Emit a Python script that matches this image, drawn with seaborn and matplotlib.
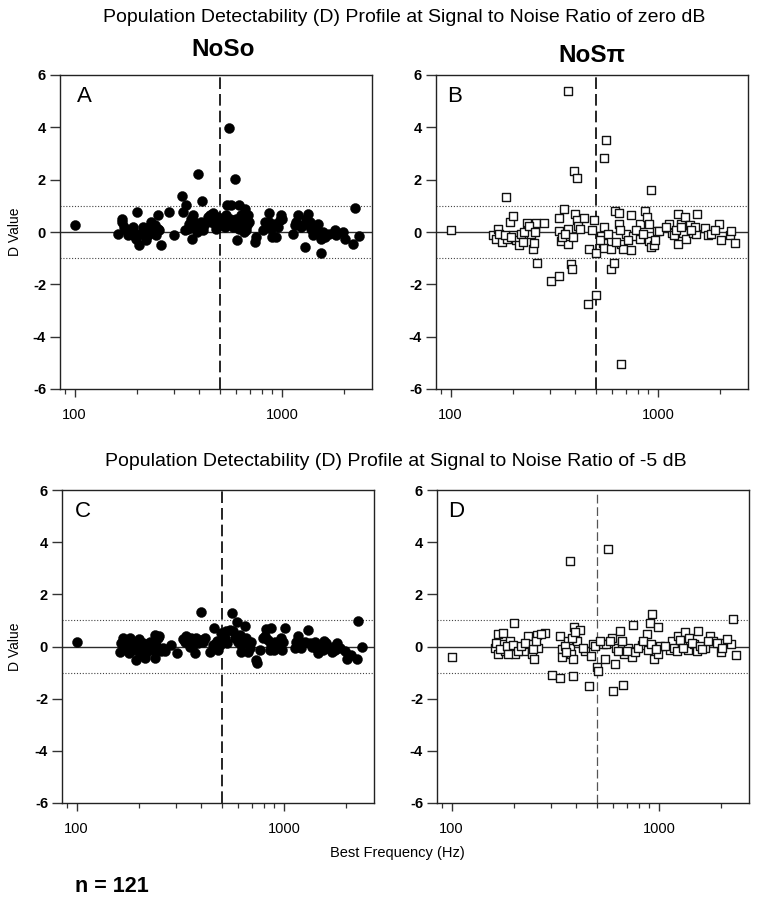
import numpy as np
import pandas as pd
import matplotlib
matplotlib.use("Agg")
import matplotlib.pyplot as plt
import seaborn as sns
from matplotlib.ticker import LogLocator, NullFormatter, FixedLocator, FixedFormatter

# ---------------- data (Best Frequency in Hz, D value) ----------------
freq_A = [100, 161, 169, 169, 177, 184, 191, 191, 199, 205, 213, 221, 234, 238, 252, 252, 261, 284, 303,
          330, 345, 332, 339, 369, 372, 378, 394, 400, 412, 415, 439, 464, 482, 491, 528, 538, 554, 569,
          593, 601, 608, 620, 636, 648, 660, 673, 693, 738, 752, 810, 862, 871, 898, 940, 957, 1004, 1130,
          1173, 1231, 1297, 1312, 1336, 1387, 1438, 1499, 1538, 1549, 1687, 1796, 1828, 1972, 2009, 2203,
          2261, 2355,
          174, 180, 187, 194, 198, 209, 217, 225, 229, 243, 247, 256, 351, 358, 365, 386, 388, 408, 423,
          448, 456, 473, 500, 509, 519, 534, 544, 559, 575, 584, 613, 624, 643, 655, 677, 685, 825, 846,
          882, 922, 975, 993, 1151, 1194, 1262, 1361, 1413, 1466, 1578, 1607]
d_A = [0.26, -0.09, 0.51, 0.38, 0.06, 0.0, -0.13, 0.19, 0.77, -0.51, 0.19, -0.32, 0.38, 0.0, 0.64, 0.13,
       -0.51, 0.77, -0.13, 1.38, 1.02, 0.77, 0.06, -0.26, 0.64, 0.38, 2.21, 0.26, 1.19, 0.06, 0.57, 0.74,
       0.13, 0.57, 0.38, 0.64, 3.96, 1.02, 2.02, 0.51, -0.32, 1.02, 0.64, 0.26, 0.89, 0.06, 0.38, -0.38,
       -0.19, 0.06, 0.74, 0.38, -0.19, -0.19, 0.19, 0.51, -0.09, 0.38, 0.19, -0.57, 0.51, 0.70, 0.13, 0.0,
       0.32, -0.80, -0.26, -0.09, 0.06, -0.13, 0.0, -0.26, -0.47, 0.93, -0.17,
       0.19, -0.13, 0.06, 0.0, -0.26, -0.06, 0.0, -0.13, 0.19, 0.26, -0.13, 0.06, 0.13, 0.32, 0.51, 0.19,
       0.0, 0.38, 0.26, 0.64, 0.38, 0.32, 0.51, 0.26, 0.45, 0.19, 1.02, 0.51, 0.32, 0.19, 0.38, 0.13, 0.51,
       0.0, 0.26, 0.64, 0.38, 0.19, 0.13, 0.32, 0.45, 0.64, 0.26, 0.64, 0.26, 0.38, -0.13, 0.13, 0.0, -0.19]

freq_B = [100, 160, 166, 169, 177, 185, 188, 193, 199, 201, 207, 213, 219, 223, 233, 237, 244, 249, 252,
          254, 258, 261, 283, 304, 333, 333, 335, 340, 351, 367, 370, 370, 379, 387, 391, 394, 400, 406,
          409, 412, 439, 459, 464, 482, 494, 500, 500, 531, 542, 548, 552, 563, 552, 597, 611, 595, 618,
          646, 648, 665, 665, 678, 698, 743, 738, 757, 815, 822, 865, 885, 905, 905, 925, 929, 953, 989,
          1011, 1130, 1173, 1194, 1254, 1254, 1297, 1321, 1346, 1371, 1422, 1476, 1521, 1542, 1514, 1680,
          1746, 1811, 1972, 2023, 2218, 2261, 2344,
          172, 182, 195, 227, 240, 256, 345, 358, 419, 523, 573, 630, 653, 716, 786, 846, 964, 1097, 1227,
          1288, 1449, 1879]
d_B = [0.09, -0.13, -0.25, 0.13, -0.38, 1.34, -0.25, 0.38, 0.60, -0.13, -0.32, -0.51, -0.06, -0.38, 0.34,
       0.06, -0.06, -0.66, -0.42, 0.19, 0.34, -1.18, 0.36, -1.89, -1.69, 0.04, 0.55, -0.34, 0.87, 5.38,
       0.13, -0.45, -1.21, -1.41, -0.19, 2.32, 0.68, 0.45, 2.06, 0.22, 0.54, -2.76, -0.64, 0.06, 0.47,
       -0.80, -2.42, -0.15, -0.42, 0.19, 2.83, 3.53, -0.60, -1.40, -1.18, -0.66, 0.80, 0.73, 0.32, -5.03,
       -0.45, -0.64, -0.06, 0.64, -0.70, -0.17, -0.25, 0.32, 0.80, 0.57, -0.36, 0.29, 1.62, -0.57, -0.51,
       0.04, 0.04, 0.29, -0.03, -0.10, 0.68, -0.45, 0.32, -0.04, 0.57, -0.25, 0.25, -0.03, -0.06, 0.68,
       0.19, 0.17, -0.13, -0.09, 0.32, -0.32, -0.13, 0.04, -0.42,
       -0.06, -0.13, -0.19, 0.0, 0.22, 0.0, -0.19, -0.06, 0.13, -0.32, -0.06, -0.38, 0.06, -0.32, 0.06,
       -0.06, -0.32, 0.19, 0.06, 0.19, 0.06, 0.06]

freq_C = [100, 161, 167, 173, 178, 183, 190, 194, 201, 205, 213, 221, 229, 238, 238, 251, 256, 266, 286,
          305, 326, 344, 351, 371, 371, 397, 399, 415, 438, 460, 467, 481, 499, 508, 533, 547, 562, 568,
          594, 612, 623, 647, 659, 671, 697, 736, 745, 764, 808, 824, 871, 871, 897, 944, 980, 1010, 991,
          1128, 1170, 1205, 1261, 1300, 1334, 1410, 1463, 1507, 1563, 1635, 1698, 1813, 1968, 2005, 2241,
          2265, 2368,
          164, 170, 175, 180, 187, 197, 203, 209, 217, 225, 233, 242, 247, 261, 332, 338, 357, 364, 378,
          385, 407, 455, 477, 490, 518, 528, 579, 601, 618, 635, 684, 794, 839, 855, 903, 966, 1148, 1238,
          1368, 1435, 1545, 1603, 1727, 1758, 1862, 2118]
d_C = [0.19, -0.22, 0.32, 0.19, -0.26, 0.04, 0.13, -0.52, 0.30, -0.13, -0.45, -0.06, 0.13, 0.45, -0.45,
       0.39, -0.19, -0.19, 0.04, -0.26, 0.30, 0.22, 0.0, 0.19, -0.26, 1.33, 0.26, 0.32, -0.22, 0.71, 0.09,
       -0.13, 0.52, 0.22, 0.13, 0.65, 1.29, 0.61, 0.94, 0.45, 0.04, 0.77, 0.32, -0.22, 0.19, -0.52, -0.65,
       -0.13, 0.39, 0.68, 0.71, 0.04, -0.13, 0.04, -0.13, 0.71, 0.19, -0.04, 0.39, -0.04, 0.19, 0.65, 0.13,
       0.19, -0.26, 0.04, 0.22, -0.06, -0.22, 0.13, -0.19, -0.48, -0.48, 0.97, 0.0,
       0.13, 0.0, -0.13, 0.32, -0.13, 0.0, -0.32, 0.13, -0.26, 0.19, -0.13, 0.06, 0.32, -0.06, 0.19, 0.39,
       0.32, 0.04, 0.32, 0.13, 0.19, 0.06, 0.22, 0.06, 0.32, 0.58, 0.32, 0.19, -0.22, 0.13, -0.06, 0.32,
       0.26, -0.13, 0.19, 0.32, 0.19, 0.13, 0.0, -0.06, -0.13, 0.13, 0.0, -0.13, -0.06, -0.32]

freq_D = [100, 161, 167, 167, 177, 177, 180, 191, 194, 200, 203, 213, 224, 234, 238, 243, 250, 259, 261,
          283, 306, 334, 335, 339, 341, 365, 372, 372, 376, 383, 387, 390, 403, 415, 439, 459, 469, 483,
          500, 506, 538, 552, 558, 567, 595, 602, 613, 624, 648, 660, 670, 680, 711, 738, 746, 766, 825,
          872, 888, 905, 931, 946, 993, 993, 1012, 1130, 1160, 1186, 1240, 1288, 1336, 1375, 1396, 1482,
          1521, 1549, 1668, 1763, 1830, 1984, 2023, 2228, 2269, 2355,
          164, 172, 184, 187, 198, 208, 217, 227, 247, 254, 269, 351, 358, 381, 393, 431, 491, 519, 580,
          636, 665, 698, 794, 840, 915, 964, 1069, 1217, 1262, 1311, 1438, 1578, 1607, 1718, 1900, 2124,
          2009]
d_D = [-0.42, -0.04, 0.47, -0.27, 0.50, 0.09, -0.19, 0.22, -0.04, 0.92, -0.29, -0.06, -0.17, 0.41, 0.09,
       -0.29, -0.48, 0.45, -0.06, 0.50, -1.10, -1.22, 0.41, -0.10, -0.42, 0.22, 3.27, -0.04, -0.29, -0.48,
       -1.12, 0.75, 0.22, 0.62, -0.17, -1.52, -0.36, 0.09, -0.80, -0.93, 0.11, -0.48, 0.09, 3.72, 0.34,
       -1.72, -0.68, -0.04, 0.60, 0.15, -1.48, -0.29, -0.06, -0.42, 0.82, -0.23, 0.06, 0.47, -0.14, 0.92,
       1.24, -0.48, 0.73, -0.29, 0.03, -0.13, 0.22, -0.04, 0.41, 0.09, 0.54, -0.14, 0.34, 0.09, -0.17,
       0.60, -0.06, 0.41, 0.22, -0.23, 0.13, 0.11, 1.04, -0.32,
       0.15, -0.10, 0.03, -0.29, 0.06, -0.17, 0.03, 0.15, -0.10, 0.22, 0.47, 0.03, -0.23, 0.34, 0.54,
       -0.04, 0.03, 0.22, 0.22, -0.17, 0.22, -0.17, -0.04, 0.22, 0.09, -0.10, 0.03, -0.17, 0.24, -0.04,
       0.15, 0.03, -0.10, 0.22, 0.15, 0.28, -0.04]

panel_letters = ["A", "B", "C", "D"]
y_ticks = [-6, -4, -2, 0, 2, 4, 6]
x_major = [100, 1000]
x_major_labels = ["100", "1000"]
x_limits = (85, 2720)
y_limits = (-6, 6)
criterion = 1.0
split_freq = 500
title_top = "Population Detectability (D) Profile at Signal to Noise Ratio of zero dB"
title_bottom = "Population Detectability (D) Profile at Signal to Noise Ratio of -5 dB"
col_titles = ["NoSo", "NoSπ"]
x_label = "Best Frequency (Hz)"
y_label = "D Value"
n_text = "n = 121"

# ---------------- figure ----------------
sns.set_style("white")
plt.rcParams["font.family"] = ["Liberation Sans", "DejaVu Sans"]
plt.rcParams["text.color"] = "black"
plt.rcParams["axes.labelcolor"] = "black"
plt.rcParams["xtick.color"] = "black"
plt.rcParams["ytick.color"] = "black"

W, H = 758, 900
fig = plt.figure(figsize=(W / 100, H / 100), dpi=100)

def rect(x0, y0, x1, y1):
    return [x0 / W, 1 - y1 / H, (x1 - x0) / W, (y1 - y0) / H]

axes = [fig.add_axes(rect(60, 75, 372, 389)),
        fig.add_axes(rect(436, 75, 748, 389)),
        fig.add_axes(rect(62, 490, 374, 803)),
        fig.add_axes(rect(437, 490, 749, 803))]

datasets = [(freq_A, d_A), (freq_B, d_B), (freq_C, d_C), (freq_D, d_D)]
letter_x = [0.055, 0.035, 0.04, 0.035]

for i, (ax, (fx, dy)) in enumerate(zip(axes, datasets)):
    df = pd.DataFrame({"freq": fx, "D": dy})
    ax.set_xscale("log")
    # reference lines
    ax.axhline(0, color="#2b2b2b", lw=1.0, zorder=1)
    ax.axhline(criterion, color="#444444", lw=0.8, ls=(0, (1, 1.6)), zorder=1)
    ax.axhline(-criterion, color="#444444", lw=0.8, ls=(0, (1, 1.6)), zorder=1)
    if i == 3:
        ax.axvline(split_freq, color="#555555", lw=0.9, ls=(0, (7, 3)), zorder=1)
    else:
        ax.axvline(split_freq, color="black", lw=1.2, ls=(0, (7, 3)), zorder=1)
    if i in (0, 2):
        sns.scatterplot(data=df, x="freq", y="D", ax=ax, marker="o", s=52,
                        color="black", edgecolor="black", linewidth=0.3, zorder=3, legend=False)
    else:
        sns.scatterplot(data=df, x="freq", y="D", ax=ax, marker="s", s=34,
                        color="white", edgecolor="#111111", linewidth=1.0, zorder=3, legend=False)
    ax.set_xlim(*x_limits)
    ax.set_ylim(*y_limits)
    ax.set_xlabel("")
    ax.set_ylabel("")
    ax.xaxis.set_major_locator(FixedLocator(x_major))
    ax.xaxis.set_major_formatter(FixedFormatter(x_major_labels))
    ax.xaxis.set_minor_locator(LogLocator(base=10, subs=np.arange(2, 10)))
    ax.xaxis.set_minor_formatter(NullFormatter())
    ax.set_yticks(y_ticks)
    ax.set_yticklabels([str(t) for t in y_ticks], fontweight="bold")
    ax.tick_params(axis="y", which="major", direction="out", length=7, width=1.0,
                   labelsize=10.5, pad=3, left=True, color="#333333", labelcolor="black")
    ax.tick_params(axis="x", which="major", direction="out", length=6, width=1.0,
                   labelsize=10.5, pad=8, bottom=True, color="#333333", labelcolor="black")
    ax.tick_params(axis="x", which="minor", direction="out", length=3.5, width=0.9,
                   bottom=True, color="#333333")
    for sp in ax.spines.values():
        sp.set_visible(True)
        sp.set_color("#222222")
        sp.set_linewidth(1.0)
    ax.text(letter_x[i], 0.965, panel_letters[i], transform=ax.transAxes,
            fontsize=16, va="top", ha="left", color="black")
    if i in (0, 2):
        yc = (75 + 389) / 2 if i == 0 else (490 + 803) / 2
        fig.text(15 / W, 1 - yc / H, y_label, rotation=90, va="center", ha="center",
                 fontsize=10, color="black")

fig.text(103 / W, 1 - 18 / H, title_top, ha="left", va="center", fontsize=14, color="black")
fig.text(105 / W, 1 - 461 / H, title_bottom, ha="left", va="center", fontsize=14, color="black")
fig.text(223 / W, 1 - 50 / H, col_titles[0], ha="center", va="center", fontsize=17.5,
         fontweight="bold", color="black")
fig.text(592 / W, 1 - 55 / H, col_titles[1], ha="center", va="center", fontsize=17.5,
         fontweight="bold", color="black")
fig.text(397 / W, 1 - 853 / H, x_label, ha="center", va="center", fontsize=10.5, color="black")
fig.text(75 / W, 1 - 887 / H, n_text, ha="left", va="center", fontsize=15.5, fontweight="bold",
         color="black")

fig.savefig("out.png", dpi=100)
